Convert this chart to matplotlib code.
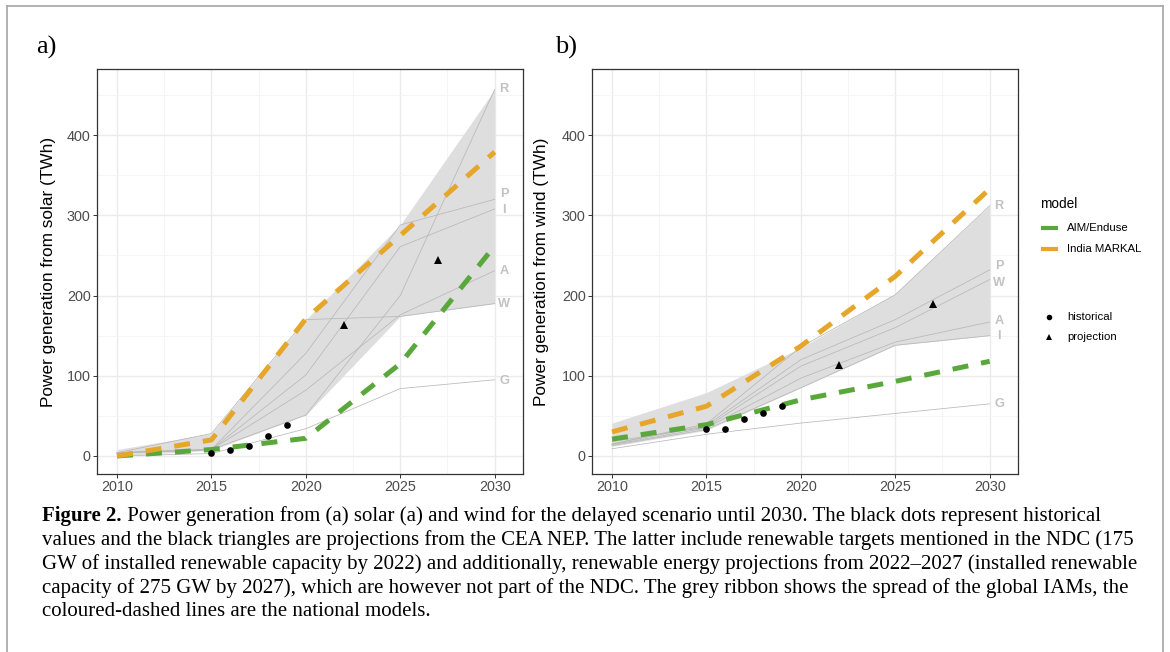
import matplotlib
matplotlib.use("Agg")
import matplotlib.pyplot as plt
from matplotlib.lines import Line2D
import numpy as np

# ---------------- data ----------------
years = [2010, 2015, 2020, 2025, 2030]

# panel a: solar
solar_ribbon_low = [0, 7, 51, 174, 190]
solar_ribbon_high = [8, 28, 170, 288, 457]
solar_models = {
    "R": [4, 8, 51, 200, 457],
    "P": [4, 8, 128, 288, 320],
    "I": [4, 8, 101, 261, 308],
    "A": [4, 8, 82, 176, 231],
    "W": [4, 28, 170, 174, 190],
    "G": [0, 3, 34, 84, 95],
}
solar_label_y = {"R": 457, "P": 327, "I": 307, "A": 231, "W": 190, "G": 94}
solar_aim = [0, 8, 22, 115, 262]
solar_markal = [0, 20, 171, 275, 379]
hist_years = [2015, 2016, 2017, 2018, 2019]
solar_hist = [4, 7.5, 13, 25, 39]
proj_years = [2022, 2027]
solar_proj = [163, 244]

# panel b: wind
wind_ribbon_low = [12, 32, 85, 138, 150]
wind_ribbon_high = [41, 79, 135, 202, 312]
wind_models = {
    "R": [15, 40, 136, 201, 312],
    "P": [15, 38, 120, 170, 232],
    "W": [18, 36, 112, 160, 220],
    "A": [14, 35, 97, 142, 167],
    "I": [13, 33, 85, 138, 150],
    "G": [9, 27, 41, 53, 65],
}
wind_label_y = {"R": 312, "P": 237, "W": 216, "A": 168, "I": 149, "G": 65}
wind_aim = [21, 39, 70, 93, 118]
wind_markal = [30, 62, 137, 224, 333]
wind_hist = [34, 33, 45.5, 53, 62]
wind_proj = [113, 189]

x_ticks = [2010, 2015, 2020, 2025, 2030]
y_ticks = [0, 100, 200, 300, 400]

legend_models = ["AIM/Enduse", "India MARKAL"]
legend_points = ["historical", "projection"]

caption_bold = "Figure 2."
caption_lines = [
    " Power generation from (a) solar (a) and wind for the delayed scenario until 2030. The black dots represent historical",
    "values and the black triangles are projections from the CEA NEP. The latter include renewable targets mentioned in the NDC (175",
    "GW of installed renewable capacity by 2022) and additionally, renewable energy projections from 2022\u20132027 (installed renewable",
    "capacity of 275 GW by 2027), which are however not part of the NDC. The grey ribbon shows the spread of the global IAMs, the",
    "coloured-dashed lines are the national models.",
]

# ---------------- style ----------------
GREEN = "#5AA83C"
ORANGE = "#E6A62A"
RIBBON = "#DEDEDE"
MODEL_LINE = "#B8B8B8"
LABEL_GREY = "#C2C2C2"
SANS = ["Liberation Sans", "DejaVu Sans"]
SERIF = ["Liberation Serif", "DejaVu Serif"]

W, H = 1170, 652
fig = plt.figure(figsize=(W / 100, H / 100), dpi=100)
fig.patch.set_facecolor("white")


def fx(x):
    return x / W


def fy(y):
    return 1 - y / H


def make_axes(left_px):
    ax = fig.add_axes([fx(left_px), fy(474), 426 / W, 405 / H])
    return ax


def draw_panel(ax, ribbon_low, ribbon_high, models, label_y, aim, markal,
               hist, proj, ylabel):
    ax.set_xlim(2008.94, 2031.5)
    ax.set_ylim(-22.5, 482.5)
    ax.set_xticks(x_ticks)
    ax.set_xticks([2012.5, 2017.5, 2022.5, 2027.5], minor=True)
    ax.set_yticks(y_ticks)
    ax.set_yticks([50, 150, 250, 350, 450], minor=True)
    ax.grid(True, which="major", color="#EBEBEB", lw=1.0, zorder=0)
    ax.grid(True, which="minor", color="#F4F4F4", lw=0.6, zorder=0)
    ax.set_axisbelow(True)
    for s in ax.spines.values():
        s.set_color("#333333")
        s.set_linewidth(0.9)
    ax.tick_params(which="major", length=2.6, width=0.7, color="#333333",
                   labelsize=10.4, labelcolor="#4D4D4D", pad=2)
    ax.tick_params(which="minor", length=0)
    for lab in ax.get_xticklabels() + ax.get_yticklabels():
        lab.set_fontfamily(SANS)

    ax.fill_between(years, ribbon_low, ribbon_high, color=RIBBON, lw=0, zorder=1)
    for name, vals in models.items():
        ax.plot(years, vals, color=MODEL_LINE, lw=0.55, zorder=2)
        ax.text(2030.5, label_y[name], name, ha="center", va="center",
                color=LABEL_GREY, fontsize=9.2, fontweight="bold",
                family=SANS, zorder=3)
    ax.plot(years, aim, color=GREEN, lw=3.6, dashes=(3.2, 2.6),
            solid_capstyle="butt", dash_capstyle="butt", zorder=4)
    ax.plot(years, markal, color=ORANGE, lw=3.6, dashes=(3.2, 2.6),
            solid_capstyle="butt", dash_capstyle="butt", zorder=4)
    ax.plot(hist_years, hist, "o", color="black", ms=4.8, mew=0, zorder=5)
    ax.plot(proj_years, proj, "^", color="black", ms=5.4, mew=0, zorder=5)
    ax.set_ylabel(ylabel, fontsize=12.4, family=SANS, color="black")


ax_a = make_axes(97)
draw_panel(ax_a, solar_ribbon_low, solar_ribbon_high, solar_models,
           solar_label_y, solar_aim, solar_markal, solar_hist, solar_proj,
           "Power generation from solar (TWh)")
ax_a.yaxis.set_label_coords((56 - 97) / 426, 0.5)

ax_b = make_axes(592)
draw_panel(ax_b, wind_ribbon_low, wind_ribbon_high, wind_models,
           wind_label_y, wind_aim, wind_markal, wind_hist, wind_proj,
           "Power generation from wind (TWh)")
ax_b.yaxis.set_label_coords((549 - 592) / 426, 0.5)

# panel tags
fig.text(fx(46), fy(47), "a)", ha="center", va="center", fontsize=19,
         family=SERIF)
fig.text(fx(566), fy(47), "b)", ha="center", va="center", fontsize=19,
         family=SERIF)

# legend
fig.text(fx(1040), fy(204), "model", ha="left", va="center", fontsize=9.8,
         family=SANS)
leg_y = [228, 249]
for lab, col, yy in zip(legend_models, [GREEN, ORANGE], leg_y):
    fig.add_artist(Line2D([fx(1041), fx(1058)], [fy(yy), fy(yy)], color=col,
                          lw=3.0, solid_capstyle="butt",
                          transform=fig.transFigure))
    fig.text(fx(1067), fy(yy), lab, ha="left", va="center", fontsize=8.2,
             family=SANS)
pt_y = [317, 337]
for lab, mk, ms, yy in zip(legend_points, ["o", "^"], [4.0, 5.0], pt_y):
    fig.add_artist(Line2D([fx(1049)], [fy(yy)], marker=mk, color="black",
                          ms=ms, mew=0, lw=0, transform=fig.transFigure))
    fig.text(fx(1067), fy(yy), lab, ha="left", va="center", fontsize=8.2,
             family=SANS)

# frame around the figure (open at the bottom)
frame_kw = dict(color="#ABABAB", lw=1.3, transform=fig.transFigure)
fig.add_artist(Line2D([fx(7), fx(7)], [fy(6), 0], **frame_kw))
fig.add_artist(Line2D([fx(1163), fx(1163)], [fy(6), 0], **frame_kw))
fig.add_artist(Line2D([fx(7), fx(1163)], [fy(6), fy(6)], **frame_kw))

# caption
cap_x = 42
cap_y0 = 516
cap_dy = 24
cap_size = 15.0
fig.canvas.draw()
renderer = fig.canvas.get_renderer()
tb = fig.text(fx(cap_x), fy(cap_y0), caption_bold, ha="left", va="center",
              fontsize=cap_size, fontweight="bold", family=SERIF)
bb = tb.get_window_extent(renderer)
fig.text(bb.x1 / W, fy(cap_y0), caption_lines[0], ha="left", va="center",
         fontsize=cap_size, family=SERIF)
for i, line in enumerate(caption_lines[1:], start=1):
    fig.text(fx(cap_x), fy(cap_y0 + i * cap_dy), line, ha="left", va="center",
             fontsize=cap_size, family=SERIF)

fig.savefig("out.png", dpi=100)
